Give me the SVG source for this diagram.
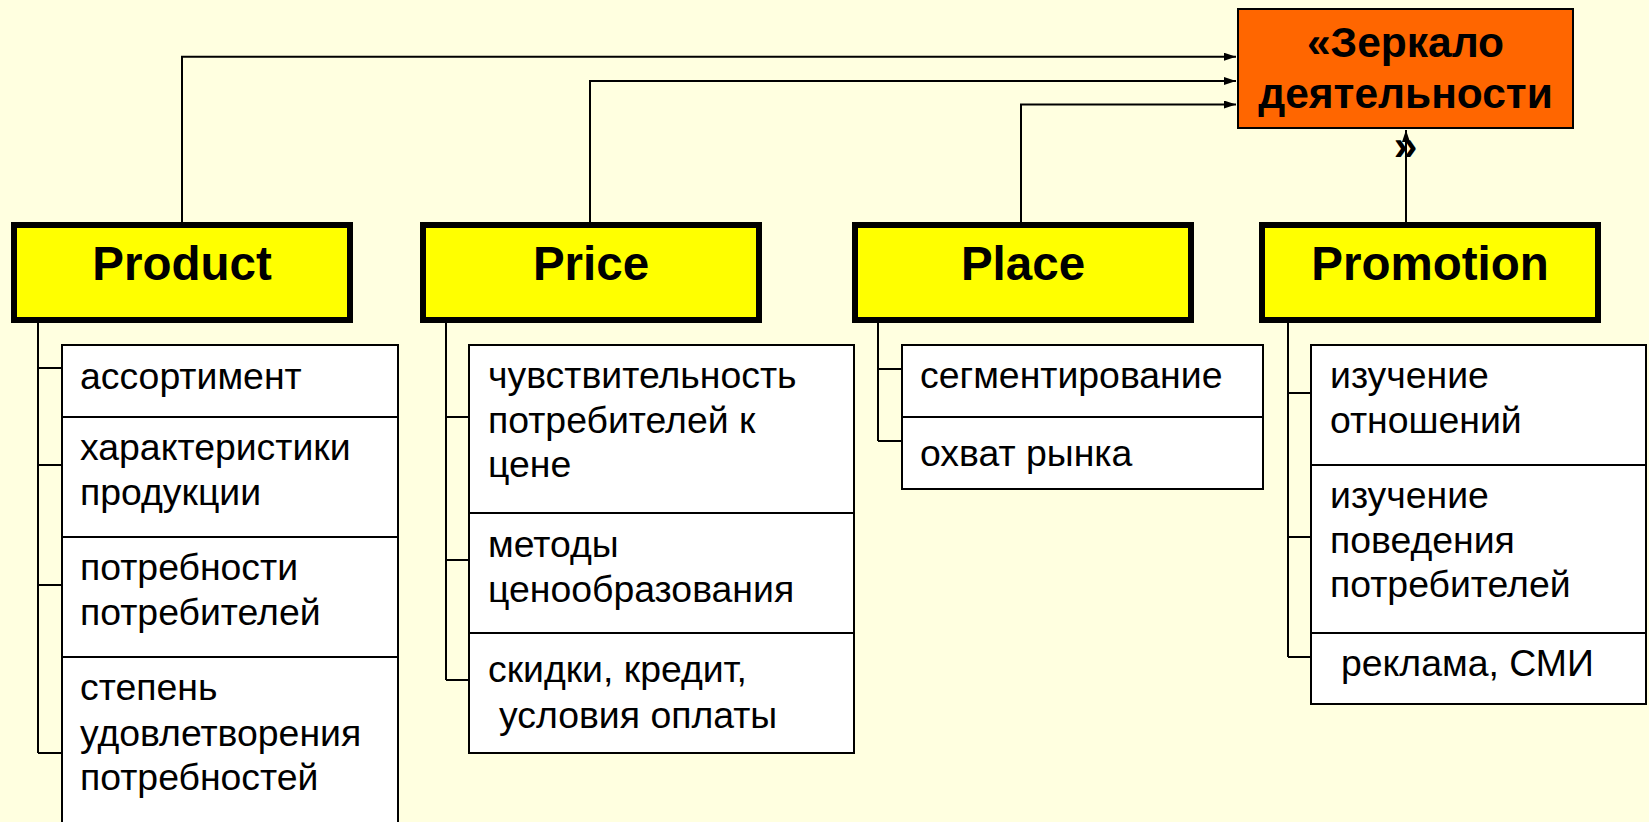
<svg xmlns="http://www.w3.org/2000/svg" width="1649" height="822" viewBox="0 0 1649 822">
  <style>
    .main { fill: #FFFF00; stroke: #000; stroke-width: 6; }
    .item { fill: #FFFFFF; stroke: #000; stroke-width: 2; }
    .tree { fill: none; stroke: #000; stroke-width: 2; }
    .conn { fill: none; stroke: #000; stroke-width: 2; }
    .title { font-family: "Liberation Sans", Arial, sans-serif; font-weight: bold; font-size: 47.5px; fill: #000; text-anchor: middle; }
    .txt { font-family: "Liberation Sans", Arial, sans-serif; font-size: 37.4px; fill: #000; }
    .goal { font-family: "Liberation Sans", Arial, sans-serif; font-weight: bold; font-size: 42.5px; fill: #000; text-anchor: middle; }
  </style>
  <defs>
    <marker id="arr" markerUnits="userSpaceOnUse" markerWidth="12" markerHeight="8" refX="12" refY="4" orient="auto">
      <path d="M0,0 L12,4 L0,8 Z" fill="#000"/>
    </marker>
  </defs>
  <rect x="0" y="0" width="1649" height="822" fill="#FFFFE0"/>

  <g id="connectors">
    <polyline class="conn" points="182,222 182,56.7 1236,56.7" marker-end="url(#arr)"/>
    <polyline class="conn" points="590,222 590,81 1236,81" marker-end="url(#arr)"/>
    <polyline class="conn" points="1021,222 1021,104.5 1236,104.5" marker-end="url(#arr)"/>
    <line class="conn" x1="1406" y1="222" x2="1406" y2="130" marker-end="url(#arr)"/>
    <path class="tree" d="M38,323 V753 M38,368 H62 M38,465 H62 M38,585 H62 M38,753 H62"/>
    <path class="tree" d="M446,323 V680 M446,417 H469 M446,560 H469 M446,680 H469"/>
    <path class="tree" d="M878,323 V441 M878,369 H902 M878,441 H902"/>
    <path class="tree" d="M1288,323 V657 M1288,393 H1311 M1288,537 H1311 M1288,657 H1311"/>
  </g>

  <g id="goal">
    <rect x="1238" y="9" width="335" height="119" fill="#FF6600" stroke="#000" stroke-width="2"/>
    <text class="goal" x="1405.5" y="56.7">«Зеркало</text>
    <text class="goal" x="1405.5" y="108.3">деятельности</text>
    <text class="goal" x="1405.5" y="159.8">»</text>
  </g>

  <g id="product">
    <rect class="main" x="14" y="225" width="336" height="95"/>
    <text class="title" x="182" y="280">Product</text>
  </g>
  <g id="price">
    <rect class="main" x="423" y="225" width="336" height="95"/>
    <text class="title" x="591" y="280">Price</text>
  </g>
  <g id="place">
    <rect class="main" x="855" y="225" width="336" height="95"/>
    <text class="title" x="1023" y="280">Place</text>
  </g>
  <g id="promotion">
    <rect class="main" x="1262" y="225" width="336" height="95"/>
    <text class="title" x="1430" y="280">Promotion</text>
  </g>

  <g id="product-items">
    <rect class="item" x="62" y="345" width="336" height="72"/>
    <text class="txt" x="80" y="389">ассортимент</text>
    <rect class="item" x="62" y="417" width="336" height="120"/>
    <text class="txt" x="80" y="460">характеристики</text>
    <text class="txt" x="80" y="505">продукции</text>
    <rect class="item" x="62" y="537" width="336" height="120"/>
    <text class="txt" x="80" y="580">потребности</text>
    <text class="txt" x="80" y="625">потребителей</text>
    <rect class="item" x="62" y="657" width="336" height="190"/>
    <text class="txt" x="80" y="700">степень</text>
    <text class="txt" x="80" y="746">удовлетворения</text>
    <text class="txt" x="80" y="790">потребностей</text>
  </g>

  <g id="price-items">
    <rect class="item" x="469" y="345" width="385" height="168"/>
    <text class="txt" x="488" y="388">чувствительность</text>
    <text class="txt" x="488" y="433">потребителей к</text>
    <text class="txt" x="488" y="477">цене</text>
    <rect class="item" x="469" y="513" width="385" height="120"/>
    <text class="txt" x="488" y="557">методы</text>
    <text class="txt" x="488" y="602">ценообразования</text>
    <rect class="item" x="469" y="633" width="385" height="120"/>
    <text class="txt" x="488" y="682">скидки, кредит,</text>
    <text class="txt" x="499" y="728">условия оплаты</text>
  </g>

  <g id="place-items">
    <rect class="item" x="902" y="345" width="361" height="72"/>
    <text class="txt" x="920" y="388">сегментирование</text>
    <rect class="item" x="902" y="417" width="361" height="72"/>
    <text class="txt" x="920" y="466">охват рынка</text>
  </g>

  <g id="promotion-items">
    <rect class="item" x="1311" y="345" width="335" height="120"/>
    <text class="txt" x="1330" y="388">изучение</text>
    <text class="txt" x="1330" y="433">отношений</text>
    <rect class="item" x="1311" y="465" width="335" height="168"/>
    <text class="txt" x="1330" y="508">изучение</text>
    <text class="txt" x="1330" y="553">поведения</text>
    <text class="txt" x="1330" y="597">потребителей</text>
    <rect class="item" x="1311" y="633" width="335" height="71"/>
    <text class="txt" x="1341" y="676">реклама, СМИ</text>
  </g>
</svg>
